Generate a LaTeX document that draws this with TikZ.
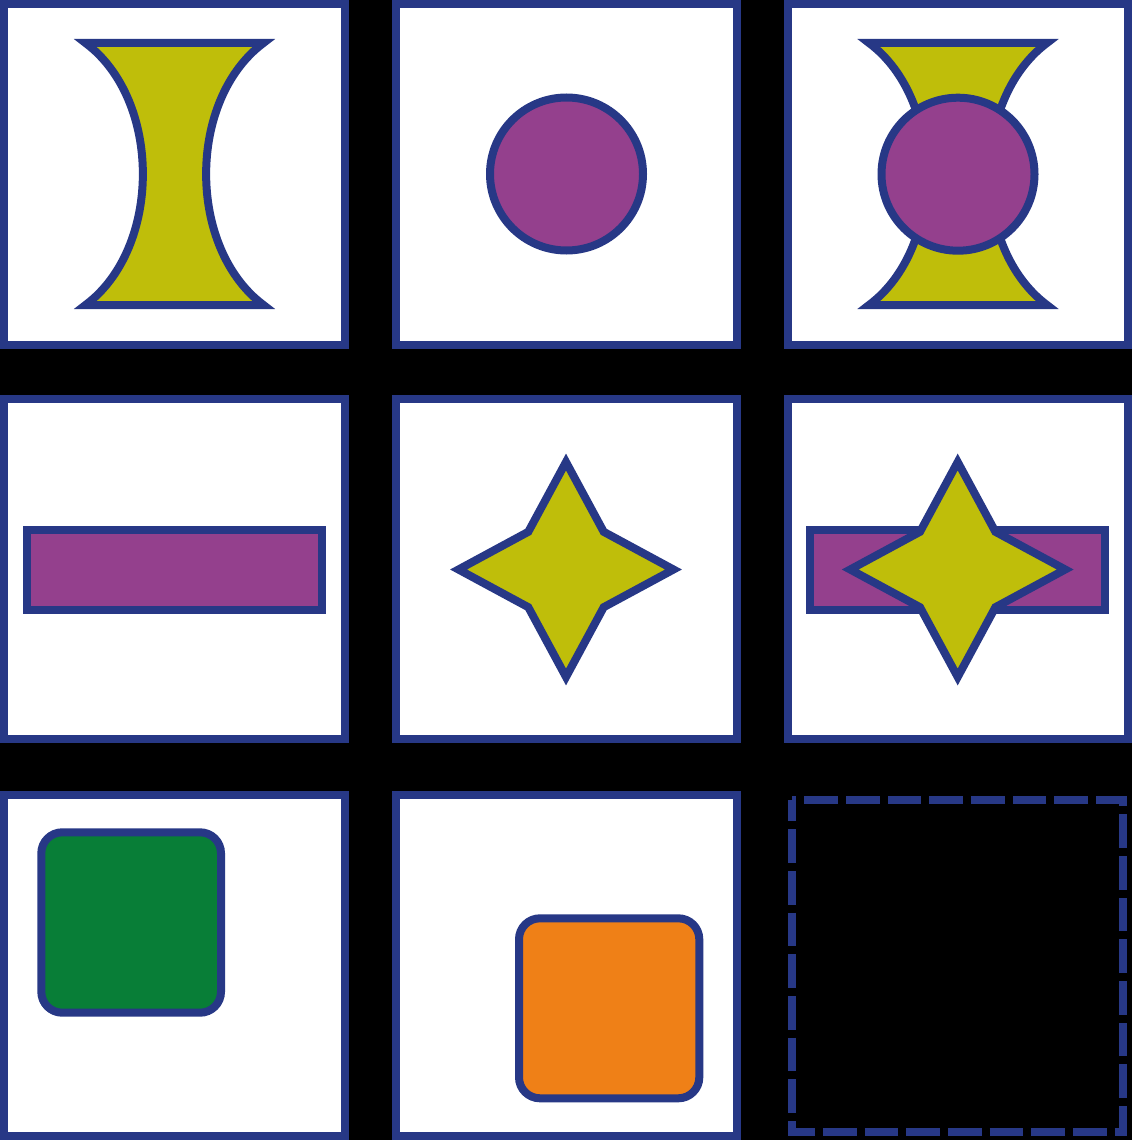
\documentclass[tikz,border=0pt]{standalone}
\usepackage{tikz}
\usetikzlibrary{positioning,calc}
\definecolor{frameblue}{RGB}{39,56,134}
\definecolor{shapeolive}{RGB}{191,190,10}
\definecolor{shapepurple}{RGB}{148,64,141}
\definecolor{shapegreen}{RGB}{8,126,55}
\definecolor{shapeorange}{RGB}{239,128,23}

\begin{document}
\begin{tikzpicture}[x=1pt,y=-1pt,line width=8pt,
	cell/.style={draw=frameblue,fill=white},
	piece/.style={draw=frameblue,miter limit=10}]
		\useasboundingbox (0,0) rectangle (1132,1140);
		\fill[black] (0,0) rectangle (1132,1140);
		
		% the eight cells
		\draw[cell] (4,4) rectangle (345,344.5);
		\draw[cell] (395.5,4) rectangle (736.5,344.5);
		\draw[cell] (787.5,4) rectangle (1128,344.5);
		\draw[cell] (4,399) rectangle (345,739);
		\draw[cell] (395.5,399) rectangle (736.5,739);
		\draw[cell] (787.5,399) rectangle (1128,739);
		\draw[cell] (4,795) rectangle (345,1136);
		\draw[cell] (395.5,795) rectangle (736.5,1136);
		
		% row 1
		\draw[piece,fill=shapeolive] (85.5,43) -- (263.5,43) .. controls (187,100) and (187,248) .. (263.5,305) -- (85.5,305) .. controls (162,248) and (162,100) .. cycle;
		\draw[piece,fill=shapepurple] (566.5,174) circle (76.5);
		\begin{scope}[shift={(783.5,0)}]
			\draw[piece,fill=shapeolive] (85.5,43) -- (263.5,43) .. controls (187,100) and (187,248) .. (263.5,305) -- (85.5,305) .. controls (162,248) and (162,100) .. cycle;
		\end{scope}
		\draw[piece,fill=shapepurple] (958,174.2) circle (76.5);
		
		% row 2
		\draw[piece,fill=shapepurple] (26.5,529.5) rectangle (321.5,609.5);
		\begin{scope}[shift={(566,569.5)}]
			\draw[piece,fill=shapeolive] (0,-107.5) -- (37.7,-37.7) -- (107.5,0) -- (37.7,37.7) -- (0,107.5) -- (-37.7,37.7) -- (-107.5,0) -- (-37.7,-37.7) -- cycle;
		\end{scope}
		\draw[piece,fill=shapepurple] (810,529.5) rectangle (1105,609.5);
		\begin{scope}[shift={(957.7,569.5)}]
			\draw[piece,fill=shapeolive] (0,-107.5) -- (37.7,-37.7) -- (107.5,0) -- (37.7,37.7) -- (0,107.5) -- (-37.7,37.7) -- (-107.5,0) -- (-37.7,-37.7) -- cycle;
		\end{scope}
		
		% row 3
		\draw[piece,fill=shapegreen,rounded corners=21pt] (41.3,832.3) rectangle (221,1012.7);
		\draw[piece,fill=shapeorange,rounded corners=21pt] (519,918.3) rectangle (699.3,1098.3);
		\draw[frameblue,dash pattern=on 33.7pt off 8pt,dash phase=12pt] (791.5,799.5) -- (791.5,1131.5) -- (1123,1131.5) -- (1123,799.5) -- cycle;
		
	\end{tikzpicture}
\end{document}
